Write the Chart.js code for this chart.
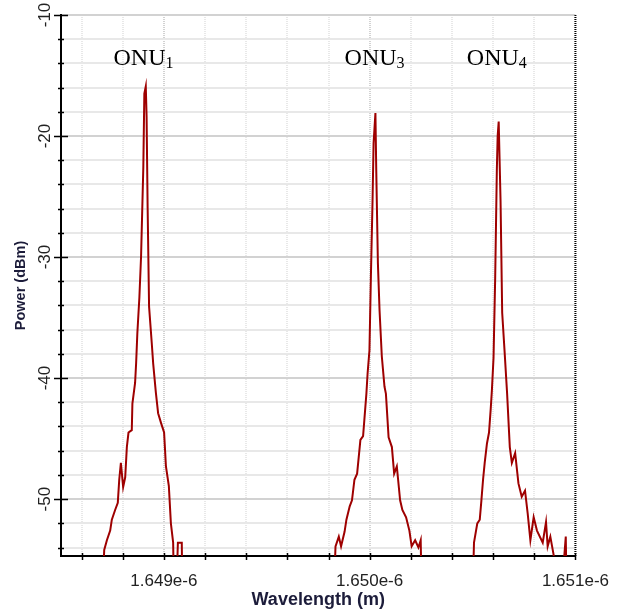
<!DOCTYPE html>
<html>
<head>
<meta charset="utf-8">
<script src="https://cdn.jsdelivr.net/npm/chart.js@4.4.1/dist/chart.umd.min.js"></script>
<style>
  html, body { margin: 0; padding: 0; background: #fff; }
  #wrap { width: 624px; height: 613px; }
</style>
</head>
<body>
<div id="wrap"><canvas id="spectrum"></canvas></div>
<script>
// wavelength in nm (axis labels are shown in metres), power in dBm
const onu1Wl = [1648.500, 1648.691, 1648.710, 1648.723, 1648.739, 1648.747, 1648.763, 1648.776, 1648.783, 1648.791,
                1648.802, 1648.812, 1648.820, 1648.828, 1648.844, 1648.847, 1648.860, 1648.865, 1648.871, 1648.881,
                1648.889, 1648.900, 1648.905, 1648.912, 1648.916, 1648.921, 1648.928, 1648.941, 1648.948, 1648.961,
                1648.972, 1648.986, 1649.001, 1649.010, 1649.024, 1649.034, 1649.045, 1649.053, 1649.068, 1649.087,
                1649.092];
const onu1Pw = [-62, -62, -54.2, -53.4, -52.6, -51.7, -50.9, -50.3, -48.4, -47.0,
                -49.0, -48.2, -45.7, -44.5, -44.3, -42.1, -40.4, -38.8, -36.3, -33.3,
                -30.0, -22.6, -16.5, -15.9, -18.4, -25.9, -34.1, -37.1, -38.8, -41.2,
                -42.9, -43.7, -44.5, -47.3, -48.9, -52.0, -53.6, -62, -53.6, -53.6,
                -62];

const onu3Wl = [1649.818, 1649.834, 1649.850, 1649.861, 1649.878, 1649.887, 1649.903, 1649.914, 1649.926, 1649.939,
                1649.955, 1649.968, 1649.974, 1649.984, 1649.990, 1649.999, 1650.006, 1650.014, 1650.019, 1650.024,
                1650.028, 1650.032, 1650.040, 1650.048, 1650.059, 1650.072, 1650.079, 1650.092, 1650.108, 1650.119,
                1650.132, 1650.148, 1650.159, 1650.177, 1650.193, 1650.204, 1650.221, 1650.237, 1650.248, 1650.257];
const onu3Pw = [-62, -53.9, -53.1, -53.9, -52.7, -51.7, -50.6, -50.1, -48.4, -47.9,
                -45.1, -44.8, -43.5, -41.3, -39.6, -37.7, -31.6, -25.3, -20.6, -19.2,
                -18.1, -22.8, -30.5, -34.4, -38.2, -40.7, -41.3, -44.9, -45.7, -47.9,
                -47.3, -50.1, -50.9, -51.5, -52.6, -53.9, -53.4, -54.0, -53.4, -62];

const onu4Wl = [1650.494, 1650.507, 1650.523, 1650.535, 1650.543, 1650.551, 1650.559, 1650.570, 1650.580, 1650.588,
                1650.594, 1650.602, 1650.610, 1650.618, 1650.622, 1650.627, 1650.636, 1650.644, 1650.656, 1650.668,
                1650.681, 1650.691, 1650.707, 1650.723, 1650.739, 1650.755, 1650.768, 1650.781, 1650.797, 1650.813,
                1650.841, 1650.857, 1650.865, 1650.878, 1650.894, 1650.913, 1650.953, 1650.961, 1651.000];
const onu4Pw = [-62, -53.6, -52.0, -51.7, -50.1, -48.4, -47.0, -45.4, -44.5, -42.6,
                -41.0, -38.3, -31.7, -22.8, -20.0, -18.8, -25.3, -34.6, -37.9, -41.3,
                -45.7, -47.0, -46.2, -48.7, -49.8, -49.3, -51.2, -53.4, -51.5, -52.6,
                -53.6, -51.9, -53.9, -53.1, -54.6, -62, -53.1, -62, -62];

const xTicks = [1648.6, 1648.8, 1649.0, 1649.2, 1649.4, 1649.6, 1649.8, 1650.0,
                1650.2, 1650.4, 1650.6, 1650.8, 1651.0];
const yTicks = [-10, -12, -14, -16, -18, -20, -22, -24, -26, -28, -30, -32, -34, -36, -38,
                -40, -42, -44, -46, -48, -50, -52, -54];

const onuNames = ['ONU', 'ONU', 'ONU'];
const onuSubs = ['1', '3', '4'];
const onuLabelX = [1648.901, 1650.024, 1650.618];
const onuLabelY = -14.1;

const toPoints = (wl, pw) => wl.map((w, i) => ({ x: w, y: pw[i] }));
const trace = [].concat(toPoints(onu1Wl, onu1Pw), toPoints(onu3Wl, onu3Pw), toPoints(onu4Wl, onu4Pw));

const isWhole = v => Math.abs(v - Math.round(v)) < 1e-6;

const peakLabels = {
    id: 'peakLabels',
    afterDatasetsDraw(chart) {
        const { ctx, scales: { x, y } } = chart;
        const big = '24px "Liberation Serif", "Times New Roman", serif';
        const small = '16px "Liberation Serif", "Times New Roman", serif';
        ctx.save();
        ctx.fillStyle = '#000';
        ctx.textBaseline = 'alphabetic';
        onuNames.forEach((name, i) => {
            ctx.font = big;
            const w1 = ctx.measureText(name).width;
            ctx.font = small;
            const w2 = ctx.measureText(onuSubs[i]).width;
            const cx = x.getPixelForValue(onuLabelX[i]);
            const cy = y.getPixelForValue(onuLabelY);
            const left = cx - (w1 + w2) / 2;
            ctx.font = big;
            ctx.fillText(name, left, cy);
            ctx.font = small;
            ctx.fillText(onuSubs[i], left + w1, cy + 3);
        });
        ctx.restore();
    }
};

const axisMarks = {
    id: 'axisMarks',
    afterDraw(chart) {
        const { ctx, chartArea: a, scales: { x, y } } = chart;
        ctx.save();
        ctx.strokeStyle = '#000';
        ctx.lineWidth = 1.5;
        ctx.beginPath();
        yTicks.forEach(v => {
            const py = Math.round(y.getPixelForValue(v)) + 0.5;
            const half = v % 10 === 0 ? 7 : 3;
            ctx.moveTo(a.left - half, py);
            ctx.lineTo(a.left + half, py);
        });
        xTicks.forEach(v => {
            const px = Math.round(x.getPixelForValue(v)) + 0.5;
            ctx.moveTo(px, a.bottom - 3);
            ctx.lineTo(px, a.bottom + 4);
        });
        ctx.stroke();
        // dotted right border
        ctx.setLineDash([1, 1]);
        ctx.lineWidth = 2;
        ctx.beginPath();
        ctx.moveTo(a.right, a.top);
        ctx.lineTo(a.right, a.bottom);
        ctx.stroke();
        ctx.restore();
    }
};

new Chart(document.getElementById('spectrum'), {
    type: 'line',
    data: {
        datasets: [{
            data: trace,
            borderColor: '#9e0000',
            borderWidth: 2,
            backgroundColor: 'transparent',
            pointRadius: 0,
            tension: 0
        }]
    },
    options: {
        responsive: true,
        maintainAspectRatio: false,
        animation: false,
        layout: { padding: { top: 15, right: 46, left: 0, bottom: 0 } },
        plugins: {
            legend: { display: false },
            tooltip: { enabled: false }
        },
        scales: {
            x: {
                type: 'linear',
                min: 1648.5,
                max: 1651.0,
                afterBuildTicks: scale => { scale.ticks = xTicks.map(v => ({ value: v })); },
                afterFit: scale => { scale.height = 57; },
                ticks: {
                    autoSkip: false,
                    maxRotation: 0,
                    padding: 15,
                    color: '#222',
                    font: { family: '"Liberation Sans", Arial, sans-serif', size: 17 },
                    callback: v => isWhole(v) ? (v / 1000).toFixed(3) + 'e-6' : ''
                },
                grid: {
                    drawTicks: false,
                    lineWidth: 2,
                    color: ctx => ctx.tick && isWhole(ctx.tick.value) ? '#d2d2d2' : '#e8e8e8'
                },
                border: { display: true, color: '#000', width: 2, dash: [1, 1] },
                title: {
                    display: true,
                    text: 'Wavelength (m)',
                    color: '#1c1c3a',
                    font: { family: '"Liberation Sans", Arial, sans-serif', size: 18, weight: 'bold' },
                    padding: { top: 0, bottom: 2 }
                }
            },
            y: {
                min: -54.7,
                max: -10,
                afterBuildTicks: scale => { scale.ticks = yTicks.map(v => ({ value: v })); },
                afterFit: scale => { scale.width = 61; },
                ticks: {
                    autoSkip: false,
                    minRotation: 90,
                    maxRotation: 90,
                    crossAlign: 'center',
                    padding: 3,
                    color: '#222',
                    font: { family: '"Liberation Sans", Arial, sans-serif', size: 17 },
                    callback: v => v % 10 === 0 ? String(v) : ''
                },
                grid: {
                    drawTicks: false,
                    lineWidth: 2,
                    color: ctx => ctx.tick && ctx.tick.value % 10 === 0 ? '#d2d2d2' : '#e8e8e8'
                },
                border: { display: true, color: '#000', width: 2 },
                title: {
                    display: true,
                    text: 'Power (dBm)',
                    color: '#1c1c3a',
                    font: { family: '"Liberation Sans", Arial, sans-serif', size: 14.5, weight: 'bold' },
                    padding: { top: 12, bottom: 4 }
                }
            }
        }
    },
    plugins: [peakLabels, axisMarks]
});
</script>
</body>
</html>
